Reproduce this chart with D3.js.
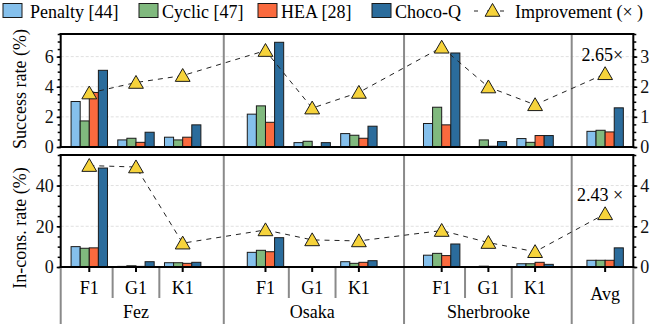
<!DOCTYPE html>
<html>
<head>
<meta charset="utf-8" />
<style>
    body { margin: 0; background: #fff; }
    svg { font-family: "Liberation Serif", "Times New Roman", serif; }
    .grid line { stroke: #d8d8d8; stroke-width: 0.8; stroke-dasharray: 3,2; }
    .sep { stroke: #8a8a8a; stroke-width: 2; }
</style>
</head>
<body>
<svg width="659" height="324"></svg>
<script src="https://d3js.org/d3.v7.min.js"></script>
<script>
    // categories
    var sites = ["Fez", "Osaka", "Sherbrooke"];
    var circuits = ["F1", "G1", "K1"];
    var methods = ["Penalty [44]", "Cyclic [47]", "HEA [28]", "Choco-Q"];
    var colors = ["#85c0ec", "#80b97e", "#fa6a3e", "#2b6c9c"];

    // success rate (%), order: Fez F1,G1,K1, Osaka F1,G1,K1, Sherbrooke F1,G1,K1, Avg
    var succPenalty = [3.02, 0.47, 0.65, 2.18, 0.29, 0.89, 1.56, 0.02, 0.56, 1.04];
    var succCyclic  = [1.73, 0.58, 0.47, 2.73, 0.38, 0.78, 2.64, 0.47, 0.31, 1.11];
    var succHEA     = [3.62, 0.31, 0.65, 1.64, 0.02, 0.58, 1.47, 0.05, 0.76, 1.00];
    var succChoco   = [5.09, 0.98, 1.47, 6.95, 0.29, 1.38, 6.24, 0.36, 0.76, 2.60];
    var succImprove = [1.79, 2.14, 2.37, 3.20, 1.29, 1.81, 3.31, 1.99, 1.40, 2.43];

    // in-constraints rate (%)
    var incPenalty = [10.0, 0.3, 2.1, 7.2, 0.2, 2.6, 5.8, 0.2, 1.6, 3.3];
    var incCyclic  = [9.2, 0.6, 2.1, 8.2, 0.2, 1.8, 6.7, 0.4, 1.6, 3.3];
    var incHEA     = [9.4, 0.3, 1.8, 7.5, 0.2, 2.3, 5.6, 0.2, 2.3, 3.3];
    var incChoco   = [48.6, 2.6, 2.3, 14.4, 0.2, 3.1, 11.3, 0.2, 1.3, 9.4];
    var incImprove = [4.98, 4.91, 1.17, 1.82, 1.33, 1.28, 1.79, 1.20, 0.75, 2.61];

    var avgLabels = ["2.65\u00d7", "2.43 \u00d7"];

    var svg = d3.select("svg");

    // x positions in "slot" units: 3 circuits per site, a gap between sites, then Avg
    var groupStep = 3.773, avgGap = 1.5;
    var slots = [];
    sites.forEach(function (s, g) {
        circuits.forEach(function (c, k) { slots.push(g * groupStep + k); });
    });
    slots.push(slots[slots.length - 1] + avgGap);

    var x = d3.scaleLinear().domain([-0.612, 11.649]).range([60.7, 633.3]);
    var barW = 9.1;

    var panels = [
        { top: 34, bottom: 147, left: [0, 7.5], right: [0, 3.75], leftMajor: [0, 2, 4, 6], leftMinorStep: 0.5,
          rightMajor: [0, 1, 2, 3], rightMinorStep: 0.25, series: [succPenalty, succCyclic, succHEA, succChoco],
          improve: succImprove, title: "Success rate (%)", label: avgLabels[0], titleY: 89 },
        { top: 155, bottom: 267, left: [0, 55], right: [0, 5.5], leftMajor: [0, 20, 40], leftMinorStep: 5,
          rightMajor: [0, 2, 4], rightMinorStep: 0.5, series: [incPenalty, incCyclic, incHEA, incChoco],
          improve: incImprove, title: "In-cons. rate (%)", label: avgLabels[1], titleY: 228 }
    ];

    var sepUnits = [2.88, 6.74, 10.33];

    panels.forEach(function (p, pi) {
        var yL = d3.scaleLinear().domain(p.left).range([p.bottom, p.top]);
        var yR = d3.scaleLinear().domain(p.right).range([p.bottom, p.top]);
        var g = svg.append("g");

        // grid
        g.append("g").attr("class", "grid")
            .selectAll("line").data(p.leftMajor.filter(function (v) { return v > 0; }))
            .enter().append("line")
            .attr("x1", x.range()[0]).attr("x2", x.range()[1])
            .attr("y1", function (d) { return yL(d); }).attr("y2", function (d) { return yL(d); });

        // group separators
        g.selectAll(".sep").data(sepUnits).enter().append("line")
            .attr("class", "sep")
            .attr("x1", function (d) { return x(d); }).attr("x2", function (d) { return x(d); })
            .attr("y1", p.top).attr("y2", p.bottom);

        // bars
        p.series.forEach(function (vals, m) {
            g.selectAll(".bar" + m).data(vals).enter().append("rect")
                .attr("x", function (d, i) { return x(slots[i]) + (m - 2) * barW; })
                .attr("y", function (d) { return yL(d); })
                .attr("width", barW)
                .attr("height", function (d) { return p.bottom - yL(d); })
                .attr("fill", colors[m])
                .attr("stroke", "#1a1a1a")
                .attr("stroke-width", 1);
        });

        // improvement line + markers
        var line = d3.line()
            .x(function (d, i) { return x(slots[i]); })
            .y(function (d) { return yR(d); });
        g.append("path").datum(p.improve)
            .attr("d", line)
            .attr("fill", "none")
            .attr("stroke", "#222")
            .attr("stroke-width", 1)
            .attr("stroke-dasharray", "5,5");
        var tri = d3.symbol().type(d3.symbolTriangle).size(95);
        g.selectAll(".tri").data(p.improve).enter().append("path")
            .attr("d", tri)
            .attr("transform", function (d, i) { return "translate(" + x(slots[i]) + "," + (yR(d) + 1.5) + ")"; })
            .attr("fill", "#f6d33b")
            .attr("stroke", "#1a1a1a")
            .attr("stroke-width", 1);

        // avg annotation
        g.append("text")
            .attr("x", x(slots[9]) + 18)
            .attr("y", yR(p.improve[9]) - 13)
            .attr("text-anchor", "end")
            .attr("font-size", 18)
            .text(p.label);

        // axes
        var leftMinor = d3.range(p.left[0], p.left[1] + 1e-9, p.leftMinorStep);
        var rightMinor = d3.range(p.right[0], p.right[1] + 1e-9, p.rightMinorStep);
        var la = g.append("g").attr("transform", "translate(" + x.range()[0] + ",0)");
        la.call(d3.axisLeft(yL).tickValues(leftMinor).tickSize(3).tickFormat(""));
        la.append("g").call(d3.axisLeft(yL).tickValues(p.leftMajor).tickSize(4).tickPadding(3).tickFormat(d3.format("d")));
        var ra = g.append("g").attr("transform", "translate(" + x.range()[1] + ",0)");
        ra.call(d3.axisRight(yR).tickValues(rightMinor).tickSize(3).tickFormat(""));
        ra.append("g").call(d3.axisRight(yR).tickValues(p.rightMajor).tickSize(4).tickPadding(3).tickFormat(d3.format("d")));
        g.selectAll(".domain").remove();
        g.selectAll(".tick line").attr("stroke", "#000").attr("stroke-width", 1.5);
        g.selectAll(".tick text").attr("font-size", 18).attr("font-family", "Liberation Serif").attr("fill", "#111");

        // frame
        [[x.range()[0], p.top, x.range()[1], p.top], [x.range()[0], p.bottom, x.range()[1], p.bottom],
         [x.range()[0], p.top, x.range()[0], p.bottom], [x.range()[1], p.top, x.range()[1], p.bottom]]
            .forEach(function (l) {
                g.append("line").attr("x1", l[0]).attr("y1", l[1]).attr("x2", l[2]).attr("y2", l[3])
                    .attr("stroke", "#000").attr("stroke-width", 2).attr("stroke-linecap", "square");
            });

        // y title
        g.append("text")
            .attr("transform", "translate(20," + p.titleY + ") rotate(-90)")
            .attr("text-anchor", "middle")
            .attr("dy", "0.35em")
            .attr("font-size", 18)
            .text(p.title);
    });

    // bottom category axis
    var base = panels[1].bottom;
    var ax = svg.append("g");
    var subSeps = [];
    sites.forEach(function (s, gi) {
        subSeps.push(slots[gi * 3] + 0.5, slots[gi * 3 + 1] + 0.5);
    });
    ax.selectAll(".subsep").data(subSeps).enter().append("line")
        .attr("class", "sep")
        .attr("x1", function (d) { return x(d); }).attr("x2", function (d) { return x(d); })
        .attr("y1", base + 1).attr("y2", 298);
    ax.selectAll(".bigsep").data([x.domain()[0]].concat(sepUnits, [x.domain()[1]])).enter().append("line")
        .attr("class", "sep")
        .attr("x1", function (d) { return x(d); }).attr("x2", function (d) { return x(d); })
        .attr("y1", base + 1).attr("y2", 324);

    var catLabels = [];
    sites.forEach(function () { circuits.forEach(function (c) { catLabels.push(c); }); });
    catLabels.push("Avg");
    ax.selectAll(".tk").data(slots).enter().append("line")
        .attr("x1", function (d) { return x(d); }).attr("x2", function (d) { return x(d); })
        .attr("y1", base).attr("y2", base + 5)
        .attr("stroke", "#000").attr("stroke-width", 2);
    ax.selectAll(".cl").data(catLabels).enter().append("text")
        .attr("x", function (d, i) { return x(slots[i]); })
        .attr("y", function (d) { return d === "Avg" ? 300 : 294; })
        .attr("text-anchor", "middle")
        .attr("font-size", 18)
        .text(function (d) { return d; });
    ax.selectAll(".sl").data(sites).enter().append("text")
        .attr("x", function (d, i) { return x(slots[i * 3 + 1]); })
        .attr("y", 318)
        .attr("text-anchor", "middle")
        .attr("font-size", 18)
        .text(function (d) { return d; });

    // legend
    var legX = [3, 139, 258, 372];
    var leg = svg.append("g");
    methods.forEach(function (m, i) {
        leg.append("rect").attr("x", legX[i]).attr("y", 3.5).attr("width", 19).attr("height", 14)
            .attr("fill", colors[i]).attr("stroke", "#1a1a1a").attr("stroke-width", 1);
        leg.append("text").attr("x", legX[i] + (i === 0 ? 27 : 23)).attr("y", 18)
            .attr("font-size", 18).text(m);
    });
    leg.append("line").attr("x1", 473).attr("x2", 512).attr("y1", 11).attr("y2", 11)
        .attr("stroke", "#222").attr("stroke-dasharray", "4,9").attr("stroke-dashoffset", -1);
    leg.append("path").attr("d", d3.symbol().type(d3.symbolTriangle).size(95))
        .attr("transform", "translate(492.5,12)")
        .attr("fill", "#f6d33b").attr("stroke", "#1a1a1a");
    leg.append("text").attr("x", 515).attr("y", 18).attr("font-size", 18).text("Improvement (\u00d7 )");
</script>
</body>
</html>
